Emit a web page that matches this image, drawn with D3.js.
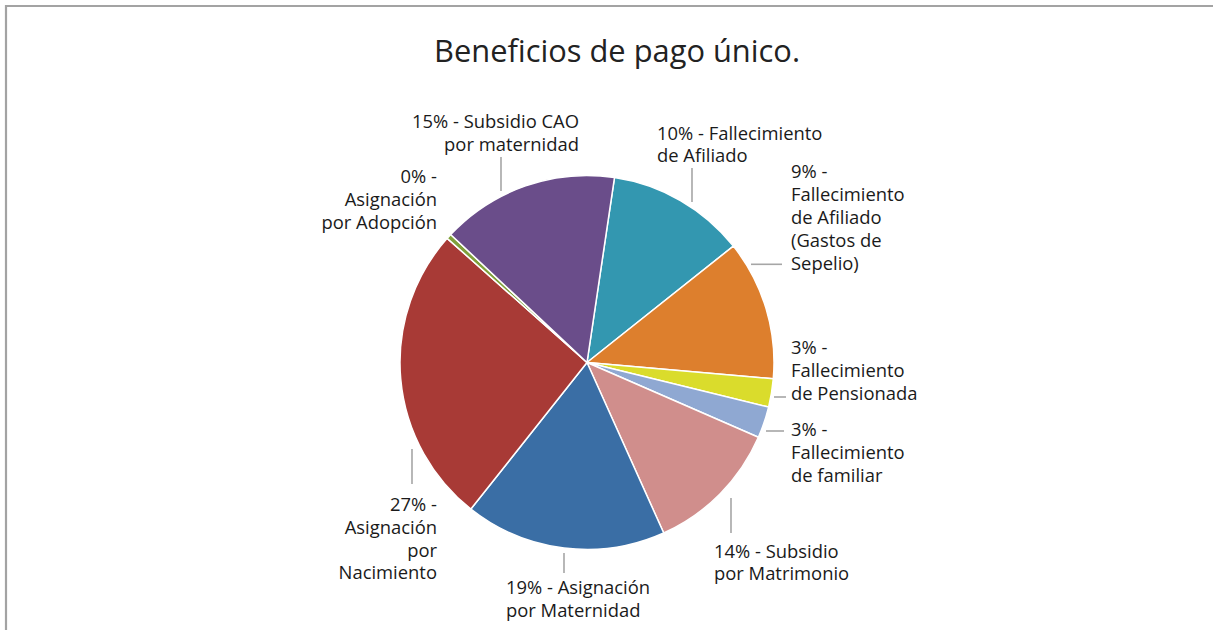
<!DOCTYPE html>
<html>
<head>
<meta charset="utf-8">
<script src="https://cdn.jsdelivr.net/npm/d3@7"></script>
<style>
  html, body { margin: 0; padding: 0; background: #fff; }
  svg { display: block; }
</style>
</head>
<body>
<svg id="chart" width="1213" height="630"></svg>
<script>
// ---- Data ----
const categories = [
  "Fallecimiento de Afiliado",
  "Fallecimiento de Afiliado (Gastos de Sepelio)",
  "Fallecimiento de Pensionada",
  "Fallecimiento de familiar",
  "Subsidio por Matrimonio",
  "Asignación por Maternidad",
  "Asignación por Nacimiento",
  "Asignación por Adopción",
  "Subsidio CAO por maternidad"
];
const values = [11.96, 12.08, 2.44, 2.72, 11.72, 17.39, 25.89, 0.44, 15.35];
const labelPercents = ["10%", "9%", "3%", "3%", "14%", "19%", "27%", "0%", "15%"];
const labelLines = [
  ["10% - Fallecimiento", "de Afiliado"],
  ["9% -", "Fallecimiento", "de Afiliado", "(Gastos de", "Sepelio)"],
  ["3% -", "Fallecimiento", "de Pensionada"],
  ["3% -", "Fallecimiento", "de familiar"],
  ["14% - Subsidio", "por Matrimonio"],
  ["19% - Asignación", "por Maternidad"],
  ["27% -", "Asignación", "por", "Nacimiento"],
  ["0% -", "Asignación", "por Adopción"],
  ["15% - Subsidio CAO", "por maternidad"]
];
const colors = ["#3397B0", "#DD7F2D", "#DADC2C", "#8FA8D2", "#D08E8C", "#3A6EA5", "#A83A36", "#7FA03A", "#6A4D8A"];
const title = "Beneficios de pago único.";

// ---- Layout (relative to pie center) ----
const cx = 587, cy = 362.5, R = 187;
const lineH = 22.9;
// label: x offset, first baseline offset, anchor; leader: [x1,y1,x2,y2] offsets
const labelLayout = [
  { dx: 70,   dy: -223,  anchor: "start", leader: [105, -194.5, 105, -160.5] },
  { dx: 204,  dy: -184.2, anchor: "start", leader: [164, -98.2, 195, -98.2] },
  { dx: 204,  dy: -8.2,  anchor: "start", leader: [187, 34.5, 199, 34.5] },
  { dx: 204,  dy: 73.5,  anchor: "start", leader: [179, 68.5, 197, 68.5] },
  { dx: 127,  dy: 195,   anchor: "start", leader: [144, 135.5, 144, 170.5] },
  { dx: -81,  dy: 231.5, anchor: "start", leader: [-23, 190.5, -23, 210.5] },
  { dx: -150, dy: 148.2, anchor: "end",   leader: [-175, 86.5, -175, 121.5] },
  { dx: -150, dy: -179.2, anchor: "end",  leader: null },
  { dx: -8,   dy: -234.8, anchor: "end",  leader: [-86, -205.5, -86, -171.5] }
];

const svg = d3.select("#chart");

// Border (top and left)
svg.append("path")
  .attr("d", "M6,630 V6 H1213")
  .attr("fill", "none")
  .attr("stroke", "#a3a3a3")
  .attr("stroke-width", 2.2);

// Title
svg.append("text")
  .attr("x", 617)
  .attr("y", 61.7)
  .attr("text-anchor", "middle")
  .attr("font-family", "'Open Sans', 'Noto Sans', sans-serif")
  .attr("font-size", 30.5)
  .attr("fill", "#222")
  .attr("textLength", 366)
  .attr("lengthAdjust", "spacingAndGlyphs")
  .text(title);

// Pie
const startAngle = 8.45 * Math.PI / 180;
const pie = d3.pie().sort(null).value(d => d)
  .startAngle(startAngle).endAngle(startAngle + 2 * Math.PI);
const arcs = pie(values);
const arc = d3.arc().innerRadius(0).outerRadius(R);

const g = svg.append("g").attr("transform", `translate(${cx},${cy})`);
g.selectAll("path.slice")
  .data(arcs)
  .join("path")
  .attr("class", "slice")
  .attr("d", arc)
  .attr("fill", (d, i) => colors[i])
  .attr("stroke", "#fff")
  .attr("stroke-width", 1.5)
  .attr("stroke-linejoin", "round");

// Leader lines
g.selectAll("line.leader")
  .data(labelLayout.filter(l => l.leader))
  .join("line")
  .attr("class", "leader")
  .attr("x1", d => d.leader[0]).attr("y1", d => d.leader[1])
  .attr("x2", d => d.leader[2]).attr("y2", d => d.leader[3])
  .attr("stroke", "#a6a6a6")
  .attr("stroke-width", 1.6);

// Labels
const labels = g.selectAll("text.lbl")
  .data(labelLines)
  .join("text")
  .attr("class", "lbl")
  .attr("font-family", "'Open Sans', 'Noto Sans', sans-serif")
  .attr("font-size", 18.4)
  .attr("fill", "#1a1a1a")
  .attr("text-anchor", (d, i) => labelLayout[i].anchor);

labels.each(function(lines, i) {
  const L = labelLayout[i];
  d3.select(this).selectAll("tspan")
    .data(lines)
    .join("tspan")
    .attr("x", L.dx)
    .attr("y", (t, j) => L.dy + j * lineH)
    .text(t => t);
});
</script>
</body>
</html>
